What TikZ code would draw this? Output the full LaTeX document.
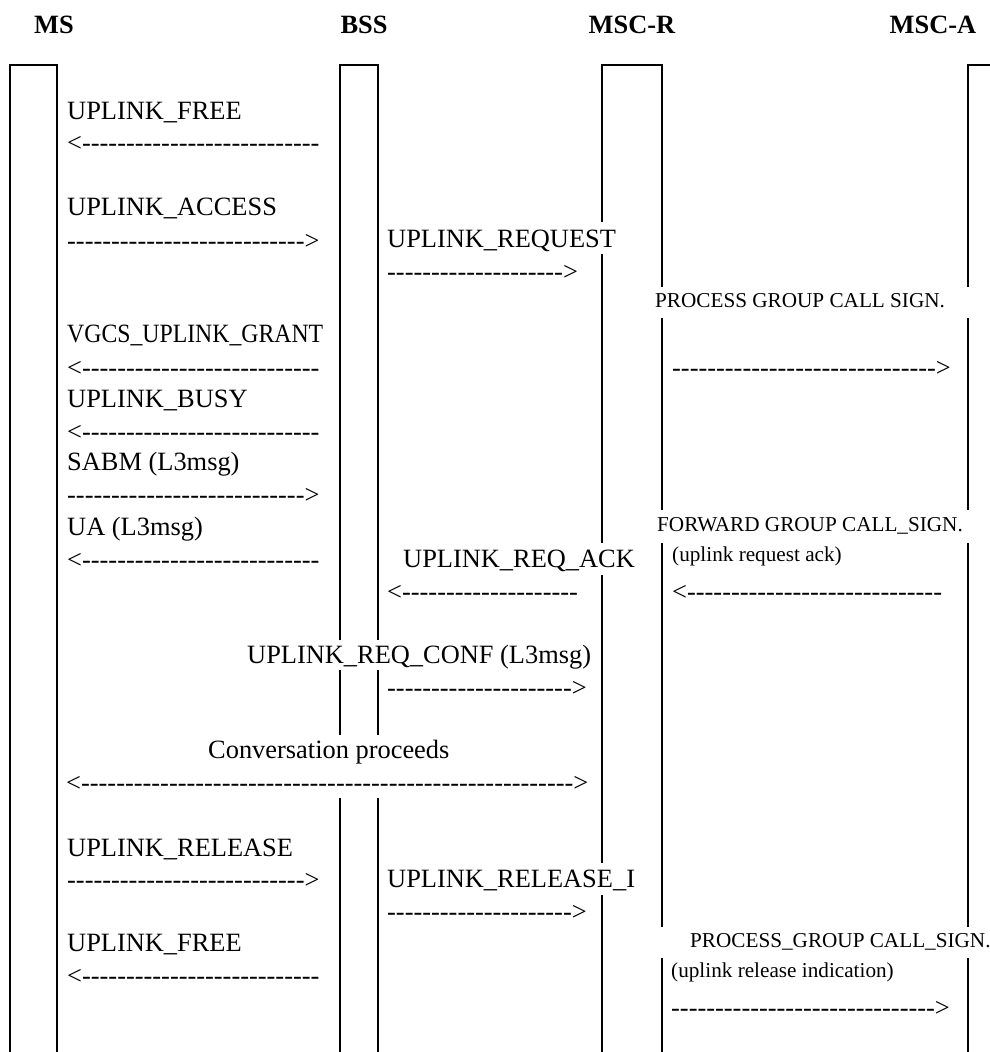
\documentclass[tikz,border=0pt]{standalone}
\usepackage{graphicx}
\usepackage{fontspec}
\setmainfont{Liberation Serif}
\ExplSyntaxOn
\cs_new:Npn \dsh #1 {\prg_replicate:nn{#1}{-\kern0pt}}
\ExplSyntaxOff
\begin{document}
\begin{tikzpicture}[x=1pt,y=-1pt,
  pil/.style={line width=2pt},
  lbl/.style={anchor=base west, inner sep=0pt, font=\fontsize{26.4}{30}\selectfont},
  sml/.style={anchor=base west, inner sep=0pt, font=\fontsize{21.2}{25}\selectfont},
  hdr/.style={anchor=base, inner sep=0pt, font=\fontsize{26.4}{30}\selectfont\bfseries}]
\useasboundingbox (0,0) rectangle (989,1052);
% headers
\node[hdr] (hMS)   at (54,33)  {MS};
\node[hdr] (hBSS)  at (364,33) {BSS};
\node[hdr] (hMSCR) at (632,33) {MSC-R};
\node[hdr] (hMSCA) at (933,33) {MSC-A};
% pillars
\draw[pil] (10,1060) -- (10,65) -- (57,65) -- (57,1060);
\draw[pil] (340,640) -- (340,65) -- (378,65) -- (378,640);
\draw[pil] (340,670) -- (340,735) (378,670) -- (378,735)
           (340,798) -- (340,1060) (378,798) -- (378,1060);
\draw[pil] (602,222) -- (602,65) -- (662,65) -- (662,287);
\draw[pil] (602,254) -- (602,543) (602,575) -- (602,863) (602,895) -- (602,1060);
\draw[pil] (662,318) -- (662,510) (662,543) -- (662,927) (662,958) -- (662,1060);
\draw[pil] (968,287) -- (968,65) -- (1000,65);
\draw[pil] (968,318) -- (968,510) (968,543) -- (968,927) (968,958) -- (968,1060);
% MS <-> BSS
\node[lbl] (t1) at (67,119) {UPLINK\_FREE};
\node[lbl] (a1) at (67,151) {<\dsh{27}};
\node[lbl] (t2) at (67,215) {UPLINK\_ACCESS};
\node[lbl] (a2) at (67,249) {\dsh{27}>};
\node[lbl] (t4) at (67,342) {\scalebox{0.9}[1]{VGCS\_UPLINK\_GRANT}};
\node[lbl] (a4) at (67,376) {<\dsh{27}};
\node[lbl] (t5) at (67,407) {UPLINK\_BUSY};
\node[lbl] (a5) at (67,440) {<\dsh{27}};
\node[lbl] (t6) at (67,470) {SABM (L3msg)};
\node[lbl] (a6) at (67,503) {\dsh{27}>};
\node[lbl] (t7) at (67,535) {UA (L3msg)};
\node[lbl] (a7) at (67,568) {<\dsh{27}};
\node[lbl] (t12) at (67,856) {UPLINK\_RELEASE};
\node[lbl] (a12) at (67,888) {\dsh{27}>};
\node[lbl] (t14) at (67,951) {UPLINK\_FREE};
\node[lbl] (a14) at (67,984) {<\dsh{27}};
% BSS <-> MSC-R
\node[lbl] (t3) at (387,247) {UPLINK\_REQUEST};
\node[lbl] (a3) at (387,280) {\dsh{20}>};
\node[lbl] (t8) at (403,567) {UPLINK\_REQ\_ACK};
\node[lbl] (a8) at (387,600) {<\dsh{20}};
\node[lbl] (t10) at (247,663) {UPLINK\_REQ\_CONF (L3msg)};
\node[lbl] (a10) at (387,696) {\dsh{21}>};
\node[lbl] (t13) at (387,887) {UPLINK\_RELEASE\_I};
\node[lbl] (a13) at (387,920) {\dsh{21}>};
% conversation
\node[lbl] (t11) at (208,758) {Conversation proceeds};
\node[lbl] (a11) at (66,791) {<\dsh{56}>};
% MSC-R <-> MSC-A
\node[sml] (s1) at (655,307) {PROCESS GROUP CALL SIGN.};
\node[lbl] (b1) at (672,376) {\dsh{30}>};
\node[sml] (s2) at (657,531) {FORWARD GROUP CALL\_SIGN.};
\node[sml] (s3) at (672,561) {(uplink request ack)};
\node[lbl] (b2) at (672,600) {<\dsh{29}};
\node[sml] (s4) at (690,947) {PROCESS\_GROUP CALL\_SIGN.};
\node[sml] (s5) at (671,977) {(uplink release indication)};
\node[lbl] (b3) at (671,1016) {\dsh{30}>};
\end{tikzpicture}
\end{document}
